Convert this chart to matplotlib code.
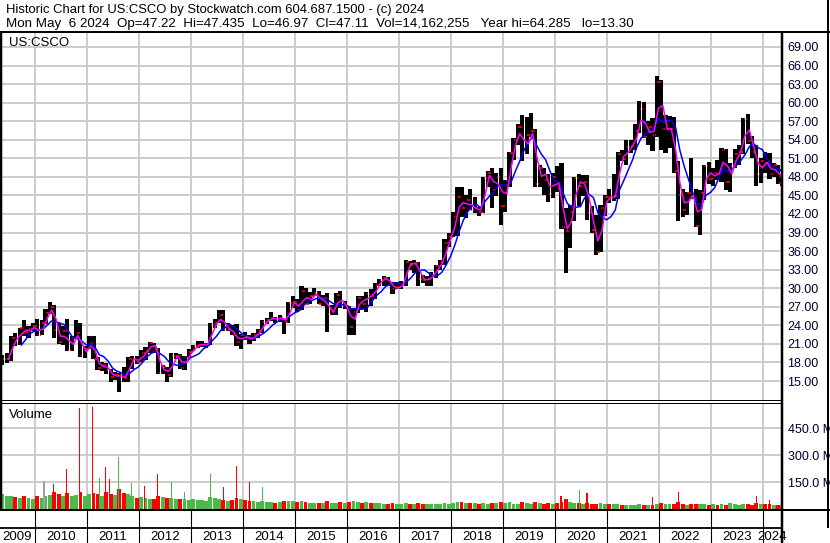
import numpy as np
import pandas as pd
import matplotlib
matplotlib.use('Agg')
import matplotlib.pyplot as plt
from matplotlib.lines import Line2D

plt.rcParams['font.family'] = ['Liberation Sans', 'DejaVu Sans']

# monthly bars, May 2009 .. May 2024
months = pd.date_range('2009-05-01', '2024-05-01', freq='MS')

high = [19.2, 19.6, 22.3, 22.8, 23.6, 24.8, 23.9, 24.3,
        25.1, 24.9, 26.6, 27.7, 27.3, 24.4, 23.9, 25.1, 22.2, 24.9, 24.4, 20.7,
        22.3, 22.2, 18.9, 18.1, 17.9, 16.9, 16.5, 16.3, 17.2, 18.9, 19.0, 19.0,
        20.0, 20.5, 21.3, 21.2, 20.3, 17.6, 17.3, 19.5, 19.6, 19.3, 19.0, 20.2,
        20.9, 21.5, 21.5, 21.2, 24.3, 25.0, 26.5, 26.4, 24.4, 24.0, 24.2, 22.6,
        22.9, 22.4, 22.8, 23.4, 24.8, 25.2, 26.2, 25.3, 25.6, 25.0, 27.8, 28.8,
        28.2, 30.3, 30.0, 29.4, 30.0, 29.5, 28.9, 29.3, 27.3, 29.2, 29.5, 27.9,
        27.2, 26.8, 28.8, 28.8, 29.4, 29.8, 30.9, 31.5, 31.9, 31.8, 31.0, 31.0,
        31.1, 34.6, 34.4, 34.5, 34.3, 32.2, 32.0, 32.6, 33.8, 34.5, 38.0, 39.0,
        42.3, 46.4, 46.4, 45.0, 46.0, 44.7, 43.2, 48.0, 49.0, 49.5, 48.7, 49.5,
        47.5, 52.0, 54.3, 56.5, 58.0, 57.7, 58.3, 55.8, 50.0, 49.5, 48.5, 48.6,
        49.8, 50.3, 43.0, 43.5, 48.0, 48.4, 48.3, 48.3, 43.3, 41.8, 43.5, 45.0,
        46.1, 48.5, 52.0, 52.3, 53.9, 54.0, 56.5, 60.3, 60.1, 57.1, 57.5, 64.3,
        63.7, 58.0, 57.8, 57.6, 50.5, 46.0, 45.6, 51.0, 46.0, 45.8, 50.0, 50.4,
        49.5, 50.8, 52.7, 52.5, 50.2, 52.5, 53.2, 57.5, 58.2, 54.6, 53.2, 51.0,
        52.1, 51.9, 50.2, 50.0, 48.1]

low = [17.6, 17.9, 18.3, 20.7, 20.9, 22.2, 22.0, 23.1,
       22.2, 22.5, 24.2, 25.9, 21.9, 21.0, 20.9, 19.9, 19.8, 21.8, 18.9, 18.7,
       20.1, 18.5, 16.8, 16.6, 16.1, 14.9, 15.1, 13.3, 14.9, 14.9, 16.9, 17.7,
       18.1, 18.4, 19.5, 19.5, 16.2, 16.2, 14.9, 15.6, 18.5, 16.9, 16.7, 18.7,
       19.9, 20.3, 20.5, 20.3, 20.8, 23.6, 24.3, 23.1, 23.1, 22.4, 20.6, 20.2,
       21.7, 21.0, 21.5, 21.9, 22.8, 24.2, 24.7, 24.3, 24.5, 22.6, 24.3, 26.8,
       26.2, 26.4, 27.4, 27.4, 28.7, 27.5, 27.2, 23.0, 25.6, 25.6, 26.8, 26.6,
       22.5, 22.5, 26.0, 26.6, 26.2, 27.2, 28.2, 30.4, 30.4, 30.4, 29.1, 29.8,
       29.8, 30.4, 33.0, 32.4, 30.4, 30.8, 30.4, 30.4, 31.6, 33.0, 33.8, 36.6,
       38.2, 38.5, 41.5, 41.3, 42.6, 42.1, 41.6, 42.2, 46.3, 43.0, 44.9, 40.3,
       42.4, 46.4, 50.7, 53.2, 50.5, 51.7, 54.5, 46.4, 46.3, 45.0, 44.0, 44.6,
       45.5, 39.6, 32.4, 36.5, 40.8, 43.3, 44.9, 41.0, 38.9, 35.3, 35.8, 41.6,
       43.7, 44.1, 44.5, 50.5, 50.0, 51.8, 52.4, 55.1, 54.3, 53.1, 52.2, 54.5,
       52.4, 51.8, 52.6, 48.6, 40.8, 41.5, 41.8, 44.5, 39.9, 38.6, 44.3, 46.8,
       46.6, 47.5, 47.2, 45.9, 45.5, 49.5, 49.9, 51.7, 53.3, 51.1, 46.5, 47.0,
       48.7, 47.7, 48.0, 46.8, 46.5]

close = [18.5, 18.6, 22.0, 21.6, 23.5, 22.9, 23.4, 23.9,
         22.5, 24.3, 26.0, 26.9, 23.2, 21.3, 23.1, 20.0, 21.9, 22.8, 19.2, 20.2,
         21.2, 18.6, 17.1, 17.6, 16.8, 15.6, 16.0, 15.7, 15.5, 18.5, 18.6, 18.1,
         19.6, 19.9, 21.2, 20.2, 16.3, 17.2, 15.9, 19.1, 19.1, 17.1, 18.9, 19.7,
         20.6, 20.9, 20.9, 20.9, 24.1, 24.3, 25.6, 23.3, 23.4, 22.5, 21.3, 22.4,
         21.9, 21.8, 22.4, 23.1, 24.6, 24.9, 25.2, 25.0, 25.2, 24.5, 27.6, 27.8,
         26.4, 29.5, 27.5, 28.8, 29.3, 27.5, 28.4, 25.9, 26.3, 28.9, 27.2, 27.2,
         23.8, 26.2, 28.5, 27.5, 29.1, 28.7, 30.5, 31.4, 31.7, 30.7, 29.8, 30.2,
         30.7, 34.2, 33.8, 34.1, 31.5, 31.3, 31.5, 32.2, 33.6, 34.2, 37.3, 38.3,
         41.5, 44.8, 42.9, 44.3, 42.7, 43.0, 42.3, 47.8, 48.7, 45.8, 47.9, 43.3,
         47.3, 51.8, 54.0, 56.0, 52.0, 54.7, 55.4, 46.8, 49.4, 47.5, 45.3, 48.0,
         46.0, 39.9, 39.3, 42.4, 47.8, 46.6, 47.1, 42.2, 39.4, 35.9, 43.0, 44.8,
         44.6, 44.9, 51.7, 50.9, 52.9, 53.0, 55.4, 59.0, 54.4, 56.0, 54.8, 63.4,
         55.7, 55.8, 55.8, 49.0, 45.0, 42.6, 45.4, 44.7, 40.0, 45.4, 49.7, 47.6,
         48.7, 48.4, 52.3, 47.2, 49.7, 51.7, 52.0, 57.3, 53.8, 52.1, 48.4, 50.5,
         50.2, 48.4, 49.9, 47.0, 47.1]

# typical daily volume peak per month, millions
vol = [85, 75, 70, 65, 60, 70, 60, 55,
       70, 60, 75, 80, 95, 85, 70, 90, 75, 80, 95, 75,
       85, 90, 85, 75, 95, 85, 80, 110, 90, 85, 70, 60,
       65, 60, 55, 55, 75, 65, 60, 60, 55, 55, 55, 50,
       55, 50, 50, 45, 65, 60, 55, 50, 45, 50, 60, 55,
       50, 45, 45, 40, 45, 40, 40, 35, 40, 45, 45, 45,
       40, 45, 40, 35, 35, 35, 35, 45, 35, 35, 40, 35,
       40, 45, 40, 35, 40, 35, 35, 35, 30, 30, 35, 30,
       30, 35, 30, 30, 35, 30, 30, 30, 30, 30, 35, 30,
       35, 40, 40, 35, 35, 35, 30, 35, 30, 35, 35, 40,
       35, 40, 30, 30, 40, 35, 30, 40, 35, 30, 35, 30,
       35, 40, 55, 40, 35, 35, 30, 35, 30, 30, 35, 30,
       30, 30, 30, 25, 25, 25, 25, 30, 25, 25, 25, 30,
       35, 30, 30, 30, 40, 30, 25, 30, 30, 30, 30, 25,
       30, 25, 30, 25, 35, 30, 25, 30, 30, 25, 35, 30,
       30, 30, 25, 25, 25]

# single heavy-volume days
spike_dates = pd.to_datetime(['2010-03-05', '2010-05-13', '2010-08-12', '2010-11-11',
                              '2011-02-10', '2011-04-01', '2011-05-12', '2011-06-10',
                              '2011-08-11', '2011-11-10', '2012-02-09', '2012-05-10',
                              '2012-08-15', '2012-11-14', '2013-05-16', '2013-08-15',
                              '2013-11-14', '2014-02-13', '2014-05-15',
                              '2020-02-13', '2020-06-19', '2020-08-13', '2021-11-18',
                              '2022-05-19', '2023-11-16', '2024-02-15'])
spike_vols = [156, 138, 225, 560, 565, 173, 236, 167, 288, 144, 127, 196,
              150, 92, 196, 121, 242, 150, 121,
              75, 104, 87, 69, 92, 75, 52]
spike_colors = ['gray', 'red', 'red', 'red', 'red', 'green', 'red', 'red', 'green',
                'green', 'red', 'red', 'green', 'green', 'green', 'red', 'red',
                'red', 'green', 'red', 'green', 'red', 'red', 'red', 'red', 'red']

price_ticks = np.arange(15, 70, 3)
vol_ticks = [150, 300, 450]
years = list(range(2009, 2025))

header1 = 'Historic Chart for US:CSCO by Stockwatch.com 604.687.1500 - (c) 2024'
header2 = ('Mon May  6 2024  Op=47.22  Hi=47.435  Lo=46.97  Cl=47.11  '
           'Vol=14,162,255   Year hi=64.285   lo=13.30')

W, H = 830, 543
RED, GREEN, GRAY = '#ff0000', '#4cb84c', '#a0a0a0'
GRID = '#c8c8c8'
LAB = '#000033'
pal = {'red': RED, 'green': GREEN, 'gray': GRAY}

fig = plt.figure(figsize=(W / 100, H / 100), dpi=100)


def fx(px):
    return px / W


def fy(py):
    return 1 - py / H


def line(xs, ys, lw, color='black'):
    fig.add_artist(Line2D([fx(x) for x in xs], [fy(y) for y in ys],
                          color=color, lw=lw * 0.72, solid_capstyle='butt'))


x0, x1 = pd.Timestamp('2009-04-30'), pd.Timestamp('2024-05-14')
year_starts = [pd.Timestamp(f'{y}-01-01') for y in years[1:]]

close_s = pd.Series(close, index=months)
mid = months + pd.Timedelta(days=15)
mend = months + pd.Timedelta(days=27)
ma_short = close_s.rolling(2).mean()
ma_long = close_s.rolling(5).mean()

# price panel
ax = fig.add_axes([0, fy(400), fx(782), fy(32.5) - fy(400)])
ax.set_xlim(x0, x1)
ax.set_ylim(11.93, 71.34)
ax.bar(mid, np.array(high) - np.array(low), bottom=low, width=29,
       color='black', linewidth=0, zorder=3)
opens = [np.nan] + close[:-1]
ax.hlines(close, mid + pd.Timedelta(days=4), mid + pd.Timedelta(days=14),
          colors=RED, lw=1.2, zorder=4)
ax.hlines(opens, mid - pd.Timedelta(days=14), mid - pd.Timedelta(days=4),
          colors=RED, lw=1.2, zorder=4)
ax.plot(mend, ma_long, color='#0000ff', lw=1.1, zorder=5)
ax.plot(mend, ma_short, color='#ff00ff', lw=1.1, zorder=6)
ax.set_yticks(price_ticks)
ax.set_yticklabels([f'{v:.2f}' for v in price_ticks])
ax.set_xticks(year_starts)
ax.set_xticklabels([])
ax.yaxis.tick_right()
ax.tick_params(axis='y', length=0, pad=4, labelsize=9, labelcolor=LAB)
ax.tick_params(axis='x', length=0)
ax.grid(True, color=GRID, lw=1.3)
ax.set_axisbelow(True)
for s in ax.spines.values():
    s.set_visible(False)
ax.text(9 / 782, (400 - 46) / 367.5, 'US:CSCO', transform=ax.transAxes,
        fontsize=9.5, va='baseline')

# volume panel
up = [True] + [close[i] >= close[i - 1] for i in range(1, len(close))]
vcol = [GREEN if u else RED for u in up]
axv = fig.add_axes([0, fy(509), fx(782), fy(403) - fy(509)])
axv.set_xlim(x0, x1)
axv.set_ylim(0, 590)
axv.bar(mid, vol, width=27, color=vcol, linewidth=0, zorder=3)
axv.bar(spike_dates, spike_vols, width=8, color=[pal[c] for c in spike_colors],
        linewidth=0, zorder=4)
axv.set_yticks(vol_ticks)
axv.set_yticklabels([f'{v:.1f} M' for v in vol_ticks])
axv.set_xticks(year_starts)
axv.set_xticklabels([])
axv.yaxis.tick_right()
axv.tick_params(axis='y', length=0, pad=4, labelsize=9, labelcolor=LAB)
axv.tick_params(axis='x', length=0)
axv.grid(True, color=GRID, lw=1.3)
axv.set_axisbelow(True)
for s in axv.spines.values():
    s.set_visible(False)
axv.text(9 / 782, (509 - 418) / 106, 'Volume', transform=axv.transAxes,
         fontsize=9.5, va='baseline')

# year label strip
axy = fig.add_axes([0, 0, fx(782), fy(510)])
axy.set_xlim(x0, x1)
axy.set_ylim(543, 510)
axy.axis('off')
bounds = [x0] + year_starts + [x1]
for i, y in enumerate(years):
    c = bounds[i] + (bounds[i + 1] - bounds[i]) / 2
    axy.text(c, 540, str(y), ha='center', va='baseline', fontsize=9.5)
axy.vlines(year_starts, 510, 543, colors='black', lw=0.8)

# header and frame lines
fig.text(fx(6), fy(13), header1, fontsize=9.4, va='baseline')
fig.text(fx(6), fy(26.5), header2, fontsize=9.6, va='baseline')
line([0, 830], [31.5, 31.5], 2)
line([1, 1], [31, 510], 2.5)
line([0, 782], [400, 400], 1)
line([0, 782], [402.5, 402.5], 1)
line([0, 830], [510, 510], 2)
line([0, 782], [527.5, 527.5], 1.8)
line([782, 782], [31, 543], 2.5)
line([828, 828], [0, 528], 2)

fig.savefig('out.png', dpi=100)
